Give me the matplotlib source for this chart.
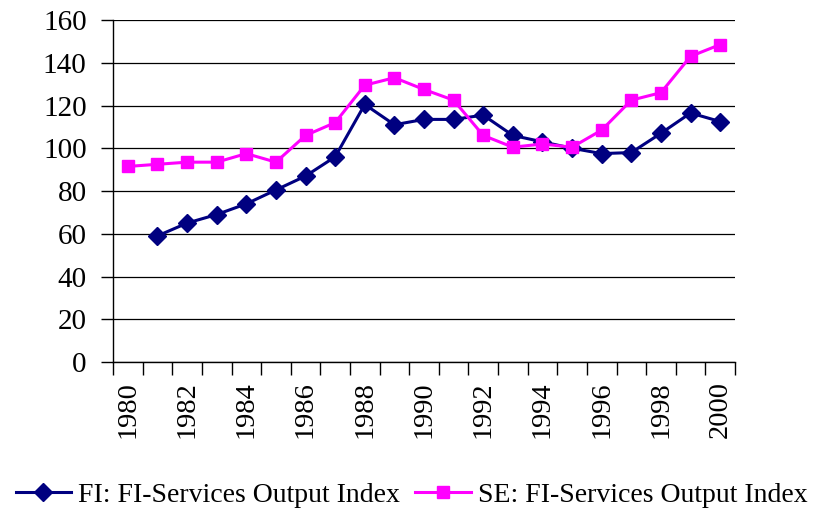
import matplotlib
matplotlib.use('Agg')
import matplotlib.pyplot as plt
import numpy as np

plt.rcParams['font.family'] = ['Liberation Serif', 'DejaVu Serif']

years = list(range(1980, 2001))

# FI series starts in 1981 (no value for 1980)
fi_output = [np.nan, 59, 65, 69, 74, 80.5, 87, 96, 120.5, 111, 113.5, 113.5,
             115.5, 106, 103, 100, 97.5, 98, 107, 116.5, 112.5]
se_output = [91.5, 92.5, 93.5, 93.5, 97.5, 93.5, 106, 112, 129.5, 133, 127.5,
             122.5, 106, 100.5, 102, 100.5, 108.5, 122.5, 126, 143, 148.5]

fi_label = 'FI: FI-Services Output Index'
se_label = 'SE: FI-Services Output Index'

fi_color = '#000080'
se_color = '#FF00FF'

fig = plt.figure(figsize=(8.15, 5.13), dpi=100)
ax = fig.add_axes([0.1387, 0.2943, 0.7631, 0.6667])

x = np.arange(len(years))
ax.plot(x, fi_output, '-D', color=fi_color, linewidth=2.2, markersize=9.5,
        label=fi_label, zorder=3)
ax.plot(x, se_output, '-s', color=se_color, linewidth=2.2, markersize=9,
        label=se_label, zorder=3)

ax.set_xlim(-0.5, len(years) - 0.5)
ax.set_ylim(0, 160)
ax.set_yticks(range(0, 161, 20))
ax.yaxis.grid(True, color='black', linewidth=0.9)
ax.set_axisbelow(True)

# labels on every other year, tick marks between categories
ax.set_xticks(x[::2])
ax.set_xticklabels(years[::2], rotation=90)
ax.set_xticks(np.arange(-0.5, len(years)), minor=True)
ax.tick_params(axis='x', which='major', length=0, pad=14, labelsize=20.5)
ax.tick_params(axis='x', which='minor', length=9, width=1, direction='out')
ax.tick_params(axis='y', length=9, width=1, labelsize=21, pad=10)

for side in ['top', 'right']:
    ax.spines[side].set_visible(False)
for side in ['left', 'bottom']:
    ax.spines[side].set_color('black')
    ax.spines[side].set_linewidth(1)

fig.legend(loc='center', bbox_to_anchor=(0.505, 0.035), ncol=2, frameon=False,
           fontsize=20, handlelength=2.0, handletextpad=0.25, columnspacing=0.55)

plt.savefig('out.png', dpi=100)
